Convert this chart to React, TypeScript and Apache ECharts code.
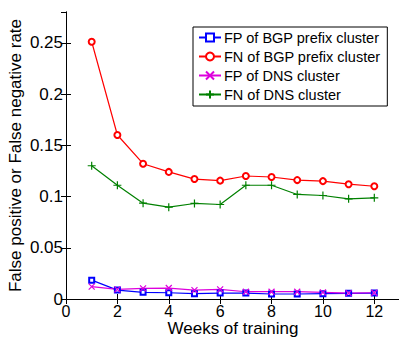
import React, { useEffect, useRef } from "react";
import * as echarts from "echarts";

const weeks = [1, 2, 3, 4, 5, 6, 7, 8, 9, 10, 11, 12];
const fpBgp = [0.0184, 0.0087, 0.0065, 0.0061, 0.0052, 0.0058, 0.0058, 0.0049, 0.0049, 0.0052, 0.0055, 0.0058];
const fnBgp = [0.251, 0.16, 0.132, 0.124, 0.117, 0.1155, 0.12, 0.119, 0.116, 0.115, 0.112, 0.11];
const fpDns = [0.012, 0.0094, 0.0103, 0.0107, 0.0087, 0.0094, 0.0071, 0.0071, 0.0071, 0.0065, 0.0058, 0.0061];
const fnDns = [0.13, 0.111, 0.0935, 0.0896, 0.0932, 0.0922, 0.111, 0.111, 0.102, 0.101, 0.0977, 0.0987];
const seriesNames = ["FP of BGP prefix cluster", "FN of BGP prefix cluster", "FP of DNS cluster", "FN of DNS cluster"];
const xMin = 0;
const xMax = 13;
const xInterval = 2;
const yMin = 0;
const yMax = 0.28;
const yInterval = 0.05;
const xName = "Weeks of training";
const yName = "False positive or False negative rate";

const FONT = "'Liberation Sans', Arial, Helvetica, sans-serif";

const pair = (ys: number[]) => weeks.map((w, i) => [w, ys[i]]);

export default function App() {
  const ref = useRef<HTMLDivElement>(null);
  useEffect(() => {
    if (!ref.current) return;
    const chart = echarts.init(ref.current, undefined, { renderer: "svg" });
    const axisLine = { show: true, lineStyle: { color: "#000", width: 1 } };
    const tick = { show: true, inside: true, length: 5, lineStyle: { color: "#000", width: 1 } };
    const mk = (name: string, data: number[], color: string, symbol: string, size: number) => ({
      name,
      type: "line",
      data: pair(data),
      symbol,
      symbolSize: size,
      showSymbol: true,
      color,
      lineStyle: { color, width: 1.2 },
      itemStyle: { color, borderColor: color, borderWidth: 1.2 },
      emphasis: { disabled: true },
    });
    chart.setOption({
      animation: false,
      backgroundColor: "#fff",
      textStyle: { fontFamily: FONT },
      grid: {
        left: 66,
        top: 12,
        width: 334,
        height: 287,
        containLabel: false,
        outerBoundsMode: "none",
      },
      legend: {
        orient: "vertical",
        left: 193,
        top: 27,
        padding: [3, 7, 4, 5],
        itemWidth: 22,
        itemHeight: 10,
        itemGap: 4,
        borderColor: "#000",
        borderWidth: 1,
        backgroundColor: "#fff",
        textStyle: { fontFamily: FONT, fontSize: 14.5, color: "#000", lineHeight: 15, padding: [0, 0, 0, -2] },
        data: seriesNames,
      },
      xAxis: [
        {
          type: "value",
          min: xMin,
          max: xMax,
          interval: xInterval,
          position: "bottom",
          name: xName,
          nameLocation: "middle",
          nameGap: 21,
          nameMoveOverlap: false,
          nameTextStyle: { fontFamily: FONT, fontSize: 17, color: "#000", lineHeight: 16 },
          axisLine,
          axisTick: tick,
          axisLabel: { fontFamily: FONT, fontSize: 16, color: "#000", margin: 6, lineHeight: 13, showMaxLabel: false },
          splitLine: { show: false },
        },
        {
          type: "value",
          min: xMin,
          max: xMax,
          interval: xInterval,
          position: "top",
          axisLine,
          axisTick: tick,
          axisLabel: { show: false },
          splitLine: { show: false },
        },
      ],
      yAxis: [
        {
          type: "value",
          min: yMin,
          max: yMax,
          interval: yInterval,
          position: "left",
          name: yName,
          nameLocation: "middle",
          nameGap: 42,
          nameMoveOverlap: false,
          nameTextStyle: { fontFamily: FONT, fontSize: 17, color: "#000" },
          axisLine,
          axisTick: tick,
          axisLabel: { fontFamily: FONT, fontSize: 17, color: "#000", margin: 3, showMaxLabel: false },
          splitLine: { show: false },
        },
        {
          type: "value",
          min: yMin,
          max: yMax,
          interval: yInterval,
          position: "right",
          axisLine,
          axisTick: tick,
          axisLabel: { show: false },
          splitLine: { show: false },
        },
      ],
      series: [
        mk(seriesNames[0], fpBgp, "#0000ff", "emptyRect", 5),
        mk(seriesNames[1], fnBgp, "#ff0000", "emptyCircle", 6),
        mk(seriesNames[2], fpDns, "#dd00dd", "path://M0,0L1,1M1,0L0,1", 6),
        mk(seriesNames[3], fnDns, "#008000", "path://M0.5,0L0.5,1M0,0.5L1,0.5", 8),
      ],
    });
    return () => chart.dispose();
  }, []);
  return (
    <div
      ref={ref}
      style={{ position: "fixed", left: 0, top: 0, width: 399, height: 337, background: "#fff" }}
    />
  );
}
